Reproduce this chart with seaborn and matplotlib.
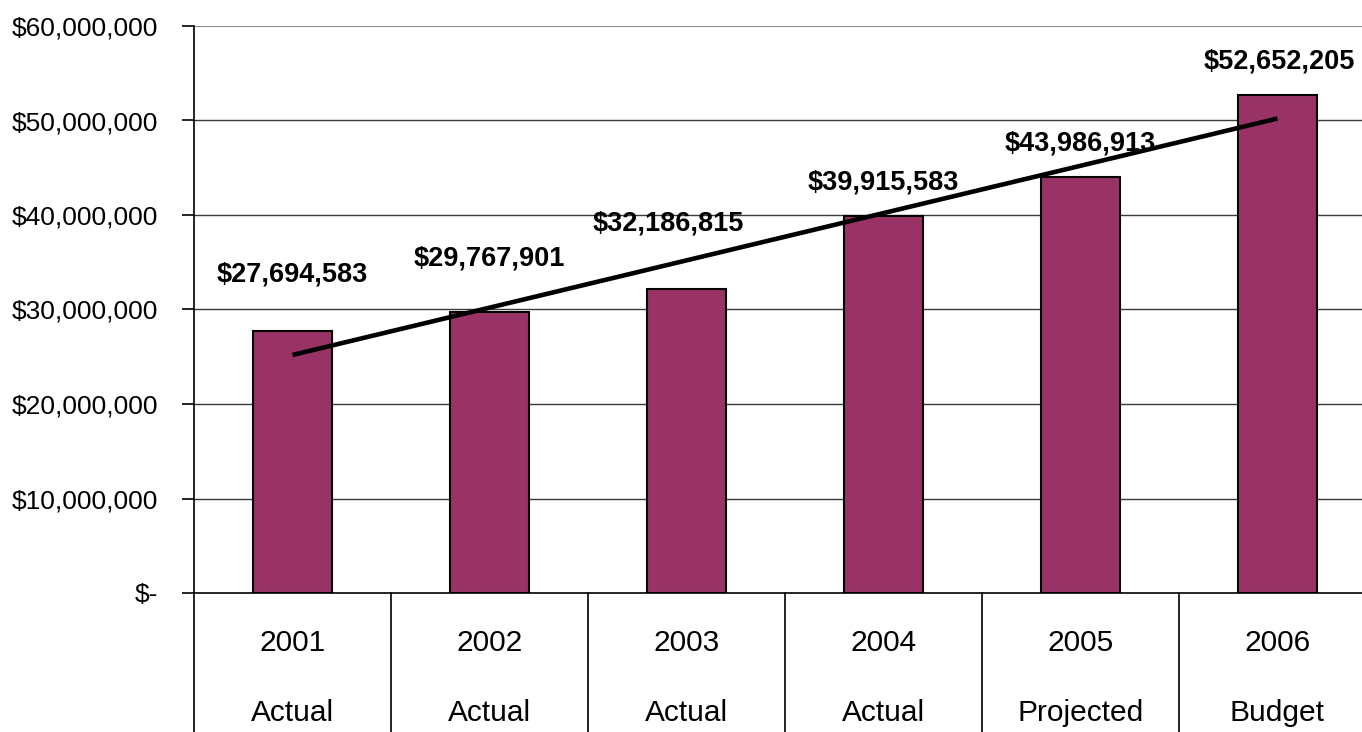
import numpy as np
import pandas as pd
import matplotlib
matplotlib.use("Agg")
import matplotlib.pyplot as plt
import matplotlib.transforms as mtransforms
import seaborn as sns

# ---- data ----
years = ["2001", "2002", "2003", "2004", "2005", "2006"]
kinds = ["Actual", "Actual", "Actual", "Actual", "Projected", "Budget"]
values = [27694583, 29767901, 32186815, 39915583, 43986913, 52652205]
yticks = [0, 10000000, 20000000, 30000000, 40000000, 50000000, 60000000]
ytick_labels = ["$-", "$10,000,000", "$20,000,000", "$30,000,000",
                "$40,000,000", "$50,000,000", "$60,000,000"]

# ---- layout (label offsets in pixels, dx, dy from bar top centre) ----
label_offsets = [(0, 57), (0, 53), (-18, 65), (0, 33), (0, 34), (2, 34)]

sns.set_style("white")
plt.rcParams["font.family"] = ["Liberation Sans", "DejaVu Sans"]
plt.rcParams["text.color"] = "black"
plt.rcParams["ytick.color"] = "black"
plt.rcParams["ytick.labelcolor"] = "black"

W, H = 1362, 732
fig = plt.figure(figsize=(W / 100, H / 100), dpi=100)
ax = fig.add_axes([194 / W, (H - 593) / H, 1182 / W, 567 / H])

df = pd.DataFrame({"year": years, "value": values})
sns.barplot(data=df, x="year", y="value", color="#993366", saturation=1,
            width=0.4, edgecolor="black", linewidth=1.5, ax=ax, zorder=3)

sns.regplot(x=np.arange(len(values)), y=np.array(values, dtype=float),
            scatter=False, ci=None, color="black", truncate=True,
            line_kws={"lw": 3.3, "solid_capstyle": "butt", "zorder": 4}, ax=ax)

ax.set_xlim(-0.5, len(years) - 0.5)
ax.set_ylim(0, 60000000)
ax.set_yticks(yticks)
ax.set_yticklabels(ytick_labels, fontsize=19, color="black")
ax.set_xticks([])
ax.set_xlabel("")
ax.set_ylabel("")

ax.grid(False)
for y in yticks[1:-1]:
    ax.axhline(y, color="#3a3a3a", lw=1.0, zorder=1)
ax.axhline(yticks[-1], color="#8c8c8c", lw=1.5, zorder=1)

for s in ["top", "right"]:
    ax.spines[s].set_visible(False)
ax.spines["left"].set_color("black")
ax.spines["left"].set_linewidth(1.2)
ax.spines["bottom"].set_color("black")
ax.spines["bottom"].set_linewidth(1.2)
ax.tick_params(axis="y", direction="out", length=9, width=1.2, color="black",
               pad=17, left=True)

# category separators and two-row category labels
trans = mtransforms.blended_transform_factory(ax.transData, ax.transAxes)
for i in range(len(years) + 1):
    ax.plot([i - 0.5, i - 0.5], [0, -0.3], transform=trans, color="black",
            lw=1.2, clip_on=False)
for i, (yr, kd) in enumerate(zip(years, kinds)):
    ax.annotate(yr, xy=(i, 0), xycoords=trans, xytext=(0, -50),
                textcoords="offset pixels", ha="center", va="center",
                fontsize=21.5, color="black")
    ax.annotate(kd, xy=(i, 0), xycoords=trans, xytext=(0, -120),
                textcoords="offset pixels", ha="center", va="center",
                fontsize=21.5, color="black")

# data labels
for i, v in enumerate(values):
    dx, dy = label_offsets[i]
    ax.annotate(f"${v:,.0f}", xy=(i, v), xytext=(dx, dy),
                textcoords="offset pixels", ha="center", va="center",
                fontsize=19.5, fontweight="bold", color="black", zorder=5)

fig.savefig("out.png", dpi=100)
